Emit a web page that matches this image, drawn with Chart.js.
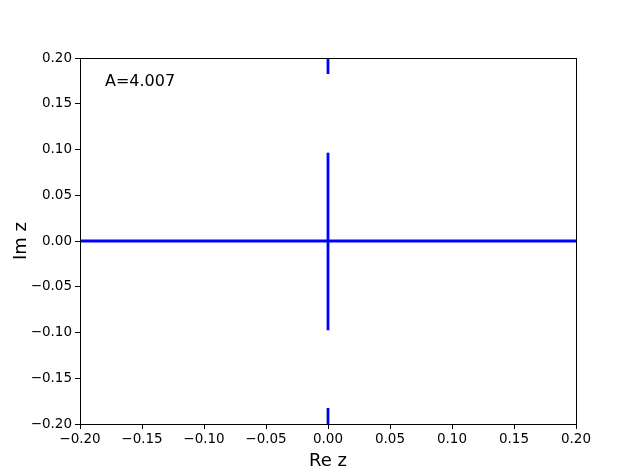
<!DOCTYPE html>
<html>
<head>
<meta charset="utf-8">
<script src="https://cdn.jsdelivr.net/npm/chart.js@4"></script>
<style>
  html, body { margin: 0; padding: 0; background: #fff; }
  #wrap { width: 640px; height: 476px; }
</style>
</head>
<body>
<div id="wrap"><canvas id="plot" width="640" height="476"></canvas></div>
<script>
// axis limits and ticks
const xTicks = [-0.2, -0.15, -0.1, -0.05, 0, 0.05, 0.1, 0.15, 0.2];
const yTicks = [-0.2, -0.15, -0.1, -0.05, 0, 0.05, 0.1, 0.15, 0.2];

// real axis line (Im z = 0)
const realX = [-0.2, 0.2];
const realY = [0, 0];

// segments on the imaginary axis (Re z = 0), [from, to]
const stemX = 0;
const stemSegments = [
  [-0.0975, 0.0965],
  [0.1825, 0.2],
  [-0.2, -0.1825]
];

const label = 'A=4.007';

const fmt = v => {
  const s = Math.abs(v).toFixed(2);
  return (v < -1e-9 ? '\u2212' : '') + s;
};

const lineStyle = {
  borderColor: '#0000ff',
  borderWidth: 2.8,
  pointRadius: 0,
  showLine: true,
  fill: false,
  tension: 0,
  clip: 0
};

const datasets = [
  Object.assign({ data: realX.map((x, i) => ({ x: x, y: realY[i] })) }, lineStyle)
];
stemSegments.forEach(seg => {
  datasets.push(Object.assign({ data: seg.map(y => ({ x: stemX, y: y })) }, lineStyle));
});

const frame = {
  id: 'frame',
  afterDatasetsDraw(chart) {
    const a = chart.chartArea;
    const c = chart.ctx;
    c.save();
    c.strokeStyle = '#000';
    c.lineWidth = 1;
    c.strokeRect(Math.round(a.left) + 0.5, Math.round(a.top) + 0.5,
      Math.round(a.right - a.left), Math.round(a.bottom - a.top));
    c.fillStyle = '#000';
    c.font = '16px "DejaVu Sans"';
    c.textAlign = 'left';
    c.textBaseline = 'middle';
    c.fillText(label, a.left + 25, a.top + 24);
    c.restore();
  }
};

new Chart(document.getElementById('plot'), {
  type: 'scatter',
  data: { datasets: datasets },
  plugins: [frame],
  options: {
    responsive: false,
    animation: false,
    layout: { padding: { top: 58, right: 64, left: 0, bottom: 0 } },
    plugins: { legend: { display: false }, tooltip: { enabled: false } },
    scales: {
      x: {
        type: 'linear',
        min: -0.2, max: 0.2,
        afterBuildTicks: s => { s.ticks = xTicks.map(v => ({ value: v })); },
        afterFit: s => { s.height = 52; },
        ticks: {
          color: '#000',
          font: { family: 'DejaVu Sans', size: 13.5 },
          padding: 2,
          maxRotation: 0,
          callback: v => fmt(v)
        },
        grid: { drawOnChartArea: false, drawTicks: true, tickLength: 5, tickColor: '#000' },
        border: { display: false },
        title: {
          display: true, text: 'Re z', color: '#000',
          font: { family: 'DejaVu Sans', size: 18 },
          padding: { top: 2, bottom: 4 }
        }
      },
      y: {
        type: 'linear',
        min: -0.2, max: 0.2,
        afterBuildTicks: s => { s.ticks = yTicks.map(v => ({ value: v })); },
        afterFit: s => { s.width = 80; },
        ticks: {
          color: '#000',
          font: { family: 'DejaVu Sans', size: 13.5 },
          padding: 3,
          callback: v => fmt(v)
        },
        grid: { drawOnChartArea: false, drawTicks: true, tickLength: 5, tickColor: '#000' },
        border: { display: false },
        title: {
          display: true, text: 'Im z', color: '#000',
          font: { family: 'DejaVu Sans', size: 18 },
          padding: { top: 11, bottom: 0 }
        }
      }
    }
  }
});
</script>
</body>
</html>
